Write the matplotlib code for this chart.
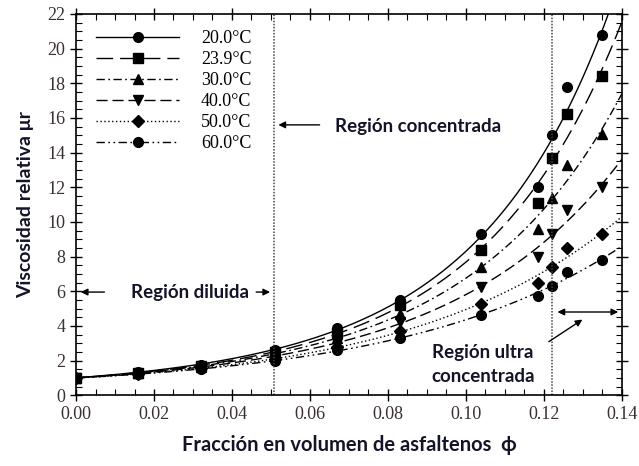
import numpy as np
import matplotlib
matplotlib.use("Agg")
import matplotlib.pyplot as plt
from matplotlib.ticker import MultipleLocator

# Volume fraction of asphaltenes
phi = [0.0, 0.016, 0.032, 0.051, 0.067, 0.083, 0.104, 0.1185, 0.122, 0.126, 0.135]

# Relative viscosity per temperature
mu_20 = [1.0, 1.35, 1.75, 2.6, 3.9, 5.5, 9.3, 12.0, 15.0, 17.8, 20.8]
mu_239 = [1.0, 1.3, 1.7, 2.5, 3.6, 5.2, 8.4, 11.1, 13.7, 16.2, 18.4]
mu_30 = [1.0, 1.3, 1.65, 2.4, 3.3, 4.7, 7.4, 9.6, 11.4, 13.3, 15.1]
mu_40 = [1.0, 1.25, 1.6, 2.3, 3.0, 4.2, 6.25, 8.0, 9.3, 10.7, 12.0]
mu_50 = [1.0, 1.2, 1.55, 2.1, 2.8, 3.7, 5.25, 6.5, 7.4, 8.5, 9.3]
mu_60 = [1.0, 1.2, 1.5, 2.0, 2.6, 3.3, 4.6, 5.7, 6.3, 7.1, 7.8]

labels = ["20.0°C", "23.9°C", "30.0°C", "40.0°C", "50.0°C", "60.0°C"]
series = [mu_20, mu_239, mu_30, mu_40, mu_50, mu_60]
markers = ["o", "s", "^", "v", "D", "o"]
msizes = [7, 6.5, 7, 7, 6, 7]
dashes = [(None, None), (12, 5), (6, 2.5, 1.2, 2.5), (8, 3.5), (1, 1.8),
          (6, 2.5, 1.2, 2.5, 1.2, 2.5)]

serif = ["Liberation Serif", "DejaVu Serif"]
sans = ["Lato", "DejaVu Sans"]
ink = "#141428"

fig = plt.figure(figsize=(6.39, 4.66), dpi=100)
ax = fig.add_axes([0.119, 0.152, 0.854, 0.818])

x_fit = np.linspace(0.0, 0.14, 300)
handles = []
for vals, lab, mk, ms, ds in zip(series, labels, markers, msizes, dashes):
    p = np.array(phi)
    v = np.array(vals)
    coef = np.polyfit(p, np.log(v), 3)
    y_fit = np.exp(np.polyval(coef, x_fit))
    line, = ax.plot(x_fit, y_fit, color="black", lw=1.0)
    if ds[0] is not None:
        line.set_dashes(ds)
    ax.plot(p, v, linestyle="none", marker=mk, ms=ms, color="black")
    h, = ax.plot([], [], color="black", lw=1.0, marker=mk, ms=ms, label=lab)
    if ds[0] is not None:
        h.set_dashes(ds)
    handles.append(h)

# Region boundaries
for xv in (0.0508, 0.122):
    ax.axvline(xv, color="#444444", lw=1.1, linestyle=(0, (1, 1)))

ax.set_xlim(0, 0.14)
ax.set_ylim(0, 22)
ax.xaxis.set_major_locator(MultipleLocator(0.02))
ax.xaxis.set_minor_locator(MultipleLocator(0.005))
ax.yaxis.set_major_locator(MultipleLocator(2))
ax.yaxis.set_minor_locator(MultipleLocator(0.5))
ax.set_xticklabels([f"{t:.2f}" for t in ax.get_xticks()])
ax.tick_params(which="major", direction="inout", length=8, width=1.0,
               top=True, right=True, labelsize=13, colors="black")
ax.tick_params(which="minor", direction="in", length=4, width=0.8,
               top=True, right=True)
for lab in ax.get_xticklabels() + ax.get_yticklabels():
    lab.set_family(serif)
    lab.set_color("#3a3030")
for s in ax.spines.values():
    s.set_linewidth(1.2)

ax.set_xlabel("Fracción en volumen de asfaltenos  ϕ", family=sans,
              fontweight="bold", fontsize=14.5, color=ink, labelpad=9)
ax.set_ylabel("Viscosidad relativa μr", family=sans, fontweight="bold",
              fontsize=14, color=ink, labelpad=10)

leg = ax.legend(handles=handles, loc="upper left", bbox_to_anchor=(0.007, 1.0),
                frameon=False, handlelength=4.6, labelspacing=0.22,
                handletextpad=1.2, prop={"family": serif, "size": 13})

arrow = dict(arrowstyle="-|>", color="black", lw=1.0, mutation_scale=10)
txt = dict(family=sans, fontweight="bold", fontsize=13.5, color=ink)

ax.text(0.0292, 5.95, "Región diluida", ha="center", va="center", **txt)
ax.annotate("", xy=(0.0005, 5.95), xytext=(0.008, 5.95), arrowprops=arrow)
ax.annotate("", xy=(0.0505, 5.95), xytext=(0.0455, 5.95), arrowprops=arrow)

ax.text(0.0877, 15.5, "Región concentrada", ha="center", va="center", **txt)
ax.annotate("", xy=(0.0512, 15.6), xytext=(0.0632, 15.6), arrowprops=arrow)

ax.text(0.1044, 1.75, "Región ultra\nconcentrada", ha="center", va="center",
        linespacing=1.5, **txt)
ax.annotate("", xy=(0.1228, 4.8), xytext=(0.1398, 4.8),
            arrowprops=dict(arrowstyle="<|-|>", color="black", lw=1.0,
                            mutation_scale=10))
ax.annotate("", xy=(0.1305, 4.45), xytext=(0.1207, 3.0), arrowprops=arrow)

fig.savefig("out.png", dpi=100)
